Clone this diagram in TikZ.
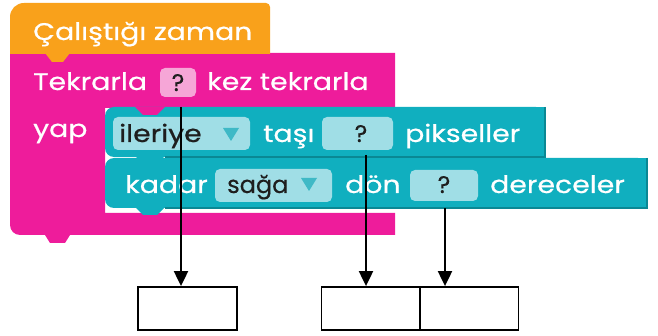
\documentclass[tikz,border=0pt]{standalone}
\usepackage{fontspec}
\setmainfont[FakeStretch=1.18,FakeBold=0.6]{Poppins}
\newfontfamily\fieldfont[FakeBold=0.4]{Poppins}
\usetikzlibrary{arrows.meta,calc}
\definecolor{hatorange}{HTML}{F9A11B}
\definecolor{loopink}{HTML}{EE1C9B}
\definecolor{fieldpink}{HTML}{F6A6D7}
\definecolor{motionteal}{HTML}{10AFBF}
\definecolor{tealdark}{HTML}{0A8894}
\definecolor{fieldteal}{HTML}{A0DEE6}
\definecolor{droptri}{HTML}{3FB9C6}
\definecolor{inktext}{HTML}{1E1E1E}
\begin{document}
\begin{tikzpicture}[x=1pt,y=-1pt,
  lbl/.style={text=white, font=\fontsize{24}{26}\selectfont, anchor=base west, inner sep=0pt},
  dark/.style={text=inktext, font=\fontsize{24}{26}\selectfont, anchor=base west, inner sep=0pt},
  qmark/.style={text=inktext, font=\fontsize{24}{26}\selectfont, anchor=base, inner sep=0pt},
  tfield/.style={fill=fieldteal, rounded corners=5pt},
  pfield/.style={fill=fieldpink, rounded corners=5pt},
  answer/.style={draw=black, line width=1.8pt, minimum width=99pt, minimum height=43pt, inner sep=0pt},
  pointer/.style={draw=black, line width=2pt, -{Triangle[length=15pt,width=14pt]}}]
\useasboundingbox (0,0) rectangle (658,336);

% loop block (C shape)
\fill[loopink] (10,53) -- (395,53) -- (395,108) -- (105,108) -- (105,213)
  -- (395,213) -- (395,235) -- (70,235) -- (65,243) -- (50,243) -- (45,235)
  [rounded corners=10pt] -- (10,235) [sharp corners] -- (10,53) -- cycle;

% second motion block
\fill[motionteal, rounded corners=9pt] (105,158) rectangle (647,208);
\fill[motionteal] (130,158) rectangle (647,208);
\fill[motionteal] (135,207) -- (143,215) -- (157,215) -- (165,207) -- cycle;
\draw[tealdark, line width=1.5pt] (647,158) -- (647,208) -- (165,208);

% first motion block
\fill[motionteal, rounded corners=9pt] (105,107) rectangle (545,157);
\fill[motionteal] (130,107) rectangle (545,157);
\fill[motionteal] (135,156) -- (143,164) -- (157,164) -- (165,156) -- cycle;
\draw[tealdark, line width=1.5pt] (545,107) -- (545,157) -- (165,157);

% notch of the loop mouth
\fill[loopink] (135,107) -- (143,115) -- (157,115) -- (165,107) -- cycle;

% hat block
\fill[hatorange] (270,54) -- (10,54) [rounded corners=14pt] -- (10,3) [rounded corners=4pt] -- (270,3) [sharp corners] -- cycle;
\fill[hatorange] (45,53) -- (52,62) -- (63,62) -- (70,53) -- cycle;

% texts of the hat and loop
\node[lbl] (hat) at (33,40) {Çalıştığı zaman};
\node[lbl] (rep) at (33,90) {Tekrarla};
\node[pfield, minimum width=36pt, minimum height=29pt] (q1) at (178,82.5) {};
\node[qmark] at (q1.center |- 0,91) {\fieldfont ?};
\node[lbl] (times) at (207,90) {kez tekrarla};
\node[lbl] (do) at (33,137) {yap};

% first motion row
\node[tfield, minimum width=137pt, minimum height=33pt] (dir) at (181.5,133.5) {};
\node[dark] at (119,142) {ileriye};
\fill[droptri] (223,128) -- (239,128) -- (231,141) -- cycle;
\node[lbl] at (263,142) {taşı};
\node[tfield, minimum width=71pt, minimum height=33pt] (q2) at (357.5,133.5) {};
\node[qmark] at (361,142) {\fieldfont ?};
\node[lbl] at (405,142) {pikseller};

% second motion row
\node[lbl] at (125,193) {kadar};
\node[tfield, minimum width=117pt, minimum height=33pt] (turn) at (273.5,185.5) {};
\node[dark] at (227,193) {\fieldfont sağa};
\fill[droptri] (301,178) -- (317,178) -- (309,191) -- cycle;
\node[lbl] at (345,193) {dön};
\node[tfield, minimum width=68pt, minimum height=31pt] (q3) at (444,185.5) {};
\node[qmark] at (q3.center |- 0,193) {\fieldfont ?};
\node[lbl] at (490,193) {dereceler};

% answer boxes
\node[answer] (b1) at (187.5,308.5) {};
\node[answer] (b2) at (371,308.5) {};
\node[answer] (b3) at (469,308.5) {};

% pointers
\coordinate (p1) at (181,107);
\coordinate (p2) at (366,155);
\coordinate (p3) at (445,208);
\draw[pointer] (p1) -- (p1 |- b1.north);
\draw[pointer] (p2) -- (p2 |- b2.north);
\draw[pointer] (p3) -- (p3 |- b3.north);
\end{tikzpicture}
\end{document}
